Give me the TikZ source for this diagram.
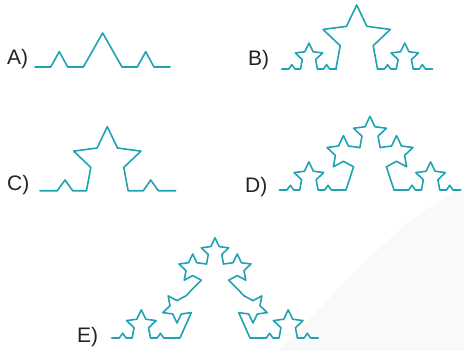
\documentclass[tikz,border=0pt]{standalone}
\usepackage{fontspec}
\setmainfont{Liberation Sans}
\definecolor{tealc}{RGB}{32,162,178}
\definecolor{labc}{RGB}{35,35,35}
\tikzset{
  curve/.style={draw=tealc, line width=1.6pt, line join=round, line cap=round},
  lbl/.style={font=\fontsize{21}{21}\selectfont, text=labc, anchor=base west, inner sep=0pt},
  % five-pointed star, circumradius 10, open at the bottom, base centre at origin
  st/.pic={\draw[curve] (-5.878,0) -- (-4.660,-6.576) -- (-9.511,-11.180) -- (-2.880,-12.054) -- (0,-18.090) -- (2.880,-12.054) -- (9.511,-11.180) -- (4.660,-6.576) -- (5.878,0);},
  % curve C: flat, bump, flat, star, flat, bump, flat
  cc/.pic={\draw[curve] (0,0) -- (17.3,0) -- (25,-10.7) -- (32.7,0) -- (46.49,0) -- (50.80,-23.28) -- (33.63,-39.58) -- (57.10,-42.67) -- (67.3,-64.04) -- (77.50,-42.67) -- (100.97,-39.58) -- (83.80,-23.28) -- (88.11,0) -- (103.3,0) -- (110.7,-10.7) -- (118.3,0) -- (135.7,0);}
}
\begin{document}
\begin{tikzpicture}[x=1pt,y=-1pt]
\useasboundingbox (0,0) rectangle (464,351);
\fill[black!2.5] (278,351) .. controls (335,295) and (400,215) .. (464,188) -- (464,351) -- cycle;
% labels
\node[lbl] (la) at (7,64.5) {A)};
\node[lbl] (lb) at (248,65.5) {B)};
\node[lbl] (lc) at (7,190.5) {C)};
\node[lbl] (ld) at (245,192) {D)};
\node[lbl] (le) at (77,342) {E)};
% A
\draw[curve] (35,67) -- (50.7,67) -- (59.3,51.7) -- (67.7,67) -- (83.3,67) -- (102.7,33) -- (122,67) -- (137.3,67) -- (145.7,51.7) -- (154,67) -- (170,67);
% C
\pic at (40,190.7) {cc};
% B
\pic[scale=0.405] at (281.7,69) {cc};
\pic[scale=3.54] at (356.7,69) {st};
\pic[scale=0.405] at (377.5,69) {cc};
% D
\coordinate (dBL) at (346,190);
\coordinate (dLL) at (353.6,166.8);
\coordinate (dLR) at (386.4,166.8);
\coordinate (dBR) at (394,190);
\pic[scale=0.44] at (279.3,190) {cc};
\draw[curve] (339,190) -- (dBL) -- (dLL);
\pic[rotate=72, scale=1.725] at (356.73,157.17) {st};
\pic[scale=1.725] at (370,147.54) {st};
\pic[rotate=-72, scale=1.725] at (383.27,157.17) {st};
\draw[curve] (dLR) -- (dBR) -- (401,190);
\pic[scale=0.44] at (401,190) {cc};
% E
\coordinate (eBL) at (180,338);
\coordinate (eA) at (191.27,312.64);
\coordinate (eB) at (185.82,295.86);
\coordinate (eLL) at (201.25,280.17);
\coordinate (eLR) at (228.75,280.17);
\coordinate (eC) at (244.18,295.86);
\coordinate (eD) at (238.73,312.64);
\coordinate (eBR) at (250,338);
\pic[scale=0.44] at (111.7,338) {cc};
\draw[curve] (171.4,338) -- (eBL) -- (eA);
\pic[rotate=108, scale=1.5] at (188.55,304.25) {st};
\draw[curve] (eB) -- (eLL);
\pic[rotate=72, scale=1.446] at (203.875,272.085) {st};
\pic[scale=1.446] at (215,264) {st};
\pic[rotate=-72, scale=1.446] at (226.125,272.085) {st};
\draw[curve] (eLR) -- (eC);
\pic[rotate=-108, scale=1.5] at (241.45,304.25) {st};
\draw[curve] (eD) -- (eBR) -- (258.6,338);
\pic[scale=0.44] at (258.6,338) {cc};
\end{tikzpicture}
\end{document}
